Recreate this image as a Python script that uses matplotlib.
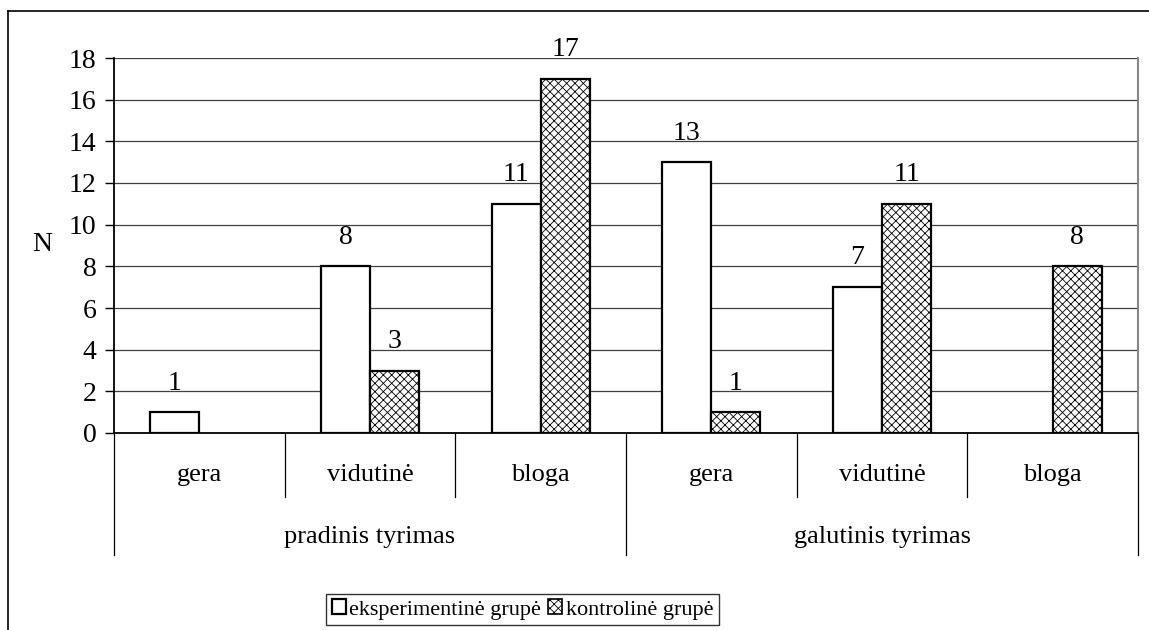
import matplotlib
matplotlib.use("Agg")
import matplotlib.pyplot as plt
from matplotlib.lines import Line2D
from matplotlib.patches import Patch
import numpy as np

categories = ["gera", "vidutinė", "bloga", "gera", "vidutinė", "bloga"]
groups = ["pradinis tyrimas", "galutinis tyrimas"]
series_names = ["eksperimentinė grupė", "kontrolinė grupė"]
eksperimentine = [1, 8, 11, 13, 7, 0]
kontroline = [0, 3, 17, 1, 11, 8]
yticks = [0, 2, 4, 6, 8, 10, 12, 14, 16, 18]

plt.rcParams['font.family'] = ['Liberation Serif', 'DejaVu Serif']
FS = 20
FC = 19
plt.rcParams['font.size'] = FS
plt.rcParams['hatch.linewidth'] = 0.6

W, H = 1149, 630
fig = plt.figure(figsize=(W / 100, H / 100), dpi=100)
ax = fig.add_axes([114 / W, 1 - 433 / H, (1138 - 114) / W, (433 - 58) / H])

x = np.arange(len(categories))
bw = 0.287
b1 = ax.bar(x - bw / 2, eksperimentine, bw, color='white', edgecolor='black', linewidth=1.6, zorder=3)
b2 = ax.bar(x + bw / 2, kontroline, bw, color='white', edgecolor='black', linewidth=1.6,
            hatch='xxxx', zorder=3)

for bars, vals in ((b1, eksperimentine), (b2, kontroline)):
    for r, v in zip(bars, vals):
        if v == 0:
            r.set_visible(False)
            continue
        ax.annotate(str(v), (r.get_x() + r.get_width() / 2, v), xytext=(0, 12),
                    textcoords='offset points', ha='center', va='bottom', fontsize=FS)

ax.set_xlim(-0.5, len(categories) - 0.5)
ax.set_ylim(0, 18)
ax.set_yticks(yticks)
ax.yaxis.grid(True, color='#404040', linewidth=0.9, zorder=0)
ax.set_axisbelow(True)
ax.tick_params(axis='y', direction='out', length=6.5, width=1, pad=6, labelsize=FS)
ax.set_xticks([])
ax.spines['top'].set_visible(False)
ax.spines['right'].set_color('#888888')
ax.spines['right'].set_linewidth(1.5)
ax.spines['left'].set_linewidth(1.3)
ax.spines['bottom'].set_linewidth(1.3)

trans = ax.get_xaxis_transform()
ah = 433 - 58
y_cat = -(475 - 433) / ah
y_grp = -(537 - 433) / ah
y_short = -(497 - 433) / ah
y_long = -(555 - 433) / ah
for i, c in enumerate(categories):
    ax.text(i, y_cat, c, transform=trans, ha='center', va='center', fontsize=FC)
for gi, g in enumerate(groups):
    ax.text(gi * 3 + 1, y_grp, g, transform=trans, ha='center', va='center', fontsize=FC)
for b in np.arange(-0.5, len(categories), 1.0):
    long = (b == -0.5) or (b == 2.5) or (b == len(categories) - 0.5)
    ax.add_line(Line2D([b, b], [0, y_long if long else y_short], transform=trans,
                       color='black', linewidth=0.9, clip_on=False))

fig.text(42 / W, 1 - 245 / H, "N", ha='center', va='center', fontsize=FS)

# chart area border (top and left)
fig.add_artist(Line2D([8 / W, 1.0], [1 - 11 / H, 1 - 11 / H], color='black', linewidth=1.2))
fig.add_artist(Line2D([8 / W, 8 / W], [1 - 11 / H, 0], color='black', linewidth=1.2))

handles = [Patch(facecolor='white', edgecolor='black', linewidth=1.6),
           Patch(facecolor='white', edgecolor='black', linewidth=1.2, hatch='xxxx')]
leg = fig.legend(handles, series_names, loc='center', bbox_to_anchor=(522.5 / W, 1 - 609.5 / H),
                 ncol=2, frameon=True, fancybox=False, edgecolor='#333333', framealpha=1,
                 handlelength=0.65, handleheight=0.65, handletextpad=0.15, columnspacing=0.3,
                 borderpad=0.25, fontsize=16)
leg.get_frame().set_linewidth(1.0)

fig.savefig("out.png", dpi=100)
